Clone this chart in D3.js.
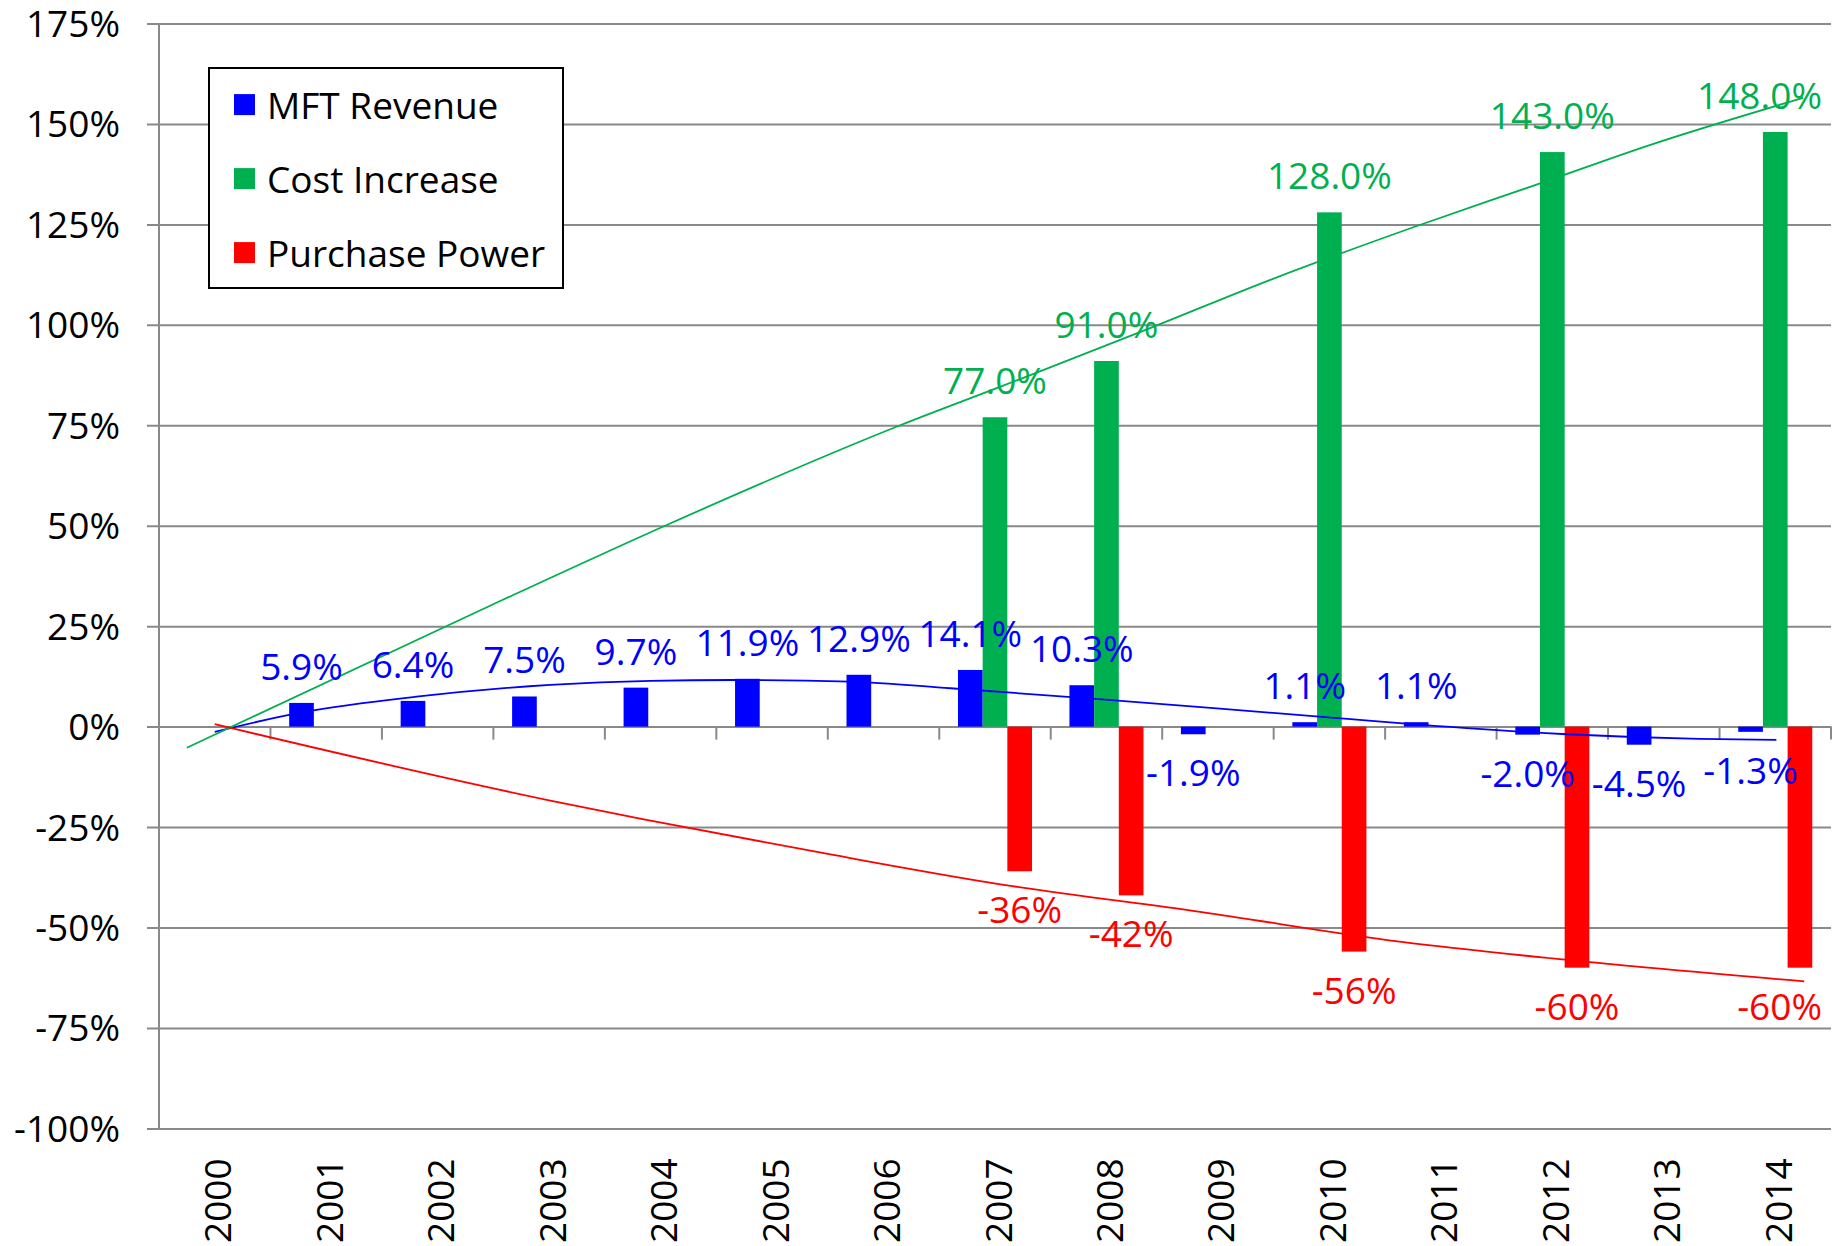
<!DOCTYPE html>
<html>
<head>
<meta charset="utf-8">
<script src="https://cdn.jsdelivr.net/npm/d3@7"></script>
<style>
  html, body { margin: 0; padding: 0; background: #fff; }
  svg { display: block; }
  text { font-family: "Open Sans", "Noto Sans", sans-serif; }
</style>
</head>
<body>
<svg id="chart" width="1843" height="1246"></svg>
<script>
// ---------------- data ----------------
const years = ["2000","2001","2002","2003","2004","2005","2006","2007","2008","2009","2010","2011","2012","2013","2014"];
const mftRevenue    = [null, 5.9, 6.4, 7.5, 9.7, 11.9, 12.9, 14.1, 10.3, -1.9, 1.1, 1.1, -2.0, -4.5, -1.3];
const costIncrease  = [null, null, null, null, null, null, null, 77.0, 91.0, null, 128.0, null, 143.0, null, 148.0];
const purchasePower = [null, null, null, null, null, null, null, -36, -42, null, -56, null, -60, null, -60];
const yTicks = [-100, -75, -50, -25, 0, 25, 50, 75, 100, 125, 150, 175];
const seriesNames = ["MFT Revenue", "Cost Increase", "Purchase Power"];
// trendlines: [year position, value %]
const mftTrend   = [[2000,-1.3],[2000.79,3.6],[2001.81,7.45],[2003.01,10.4],[2003.91,11.4],[2004.65,11.6],[2005.7,11.2],[2006.6,9.55],[2007.9,6.9],[2008.99,4.55],[2010.19,1.85],[2010.63,0.85],[2012.13,-1.9],[2013.32,-3.05],[2014.01,-3.3]];
const costTrend  = [[1999.75,-5.25],[2002.58,31.5],[2004.04,50],[2006.15,75],[2007.05,84.6],[2008.42,99.5],[2009.47,111.2],[2010.81,124.85],[2011.89,135.2],[2012.88,144.8],[2014.25,156.5]];
const powerTrend = [[2000,0.6],[2003.01,-18.4],[2003.85,-23.1],[2005.5,-31.7],[2007.05,-39.25],[2008.84,-46.1],[2010.63,-53.5],[2012,-57.7],[2014.26,-63.4]];

// ---------------- layout / style ----------------
const colors = ["#0000FF", "#00B050", "#FF0000"];
const labelFmt = [v => v.toFixed(1) + "%", v => v.toFixed(1) + "%", v => v.toFixed(0) + "%"];
const plotLeft = 159, plotRight = 1831, plotTop = 23.5, plotBottom = 1128.4;
const fontSize = 37;
const gridColor = "#898989";

const svg = d3.select("#chart");

const x = d3.scaleBand().domain(years).range([plotLeft, plotRight]).padding(0);
const y = d3.scaleLinear().domain([-100, 175]).range([plotBottom, plotTop]);
const bw = x.bandwidth();
const barW = bw * 0.2214;
const xc = yr => x(years[0]) + bw / 2 + (yr - +years[0]) * bw;

// gridlines + y ticks
const yAxis = d3.axisLeft(y).tickValues(yTicks).tickSize(plotRight - plotLeft + 12).tickFormat(d => d + "%").tickPadding(26);
const gy = svg.append("g").attr("transform", `translate(${plotRight},0)`).call(yAxis);
gy.select(".domain").remove();
gy.selectAll(".tick line").attr("stroke", gridColor).attr("stroke-width", 2);
gy.selectAll(".tick text").attr("font-size", fontSize).attr("fill", "#000").attr("dy", "0.35em")
  .attr("x", -(plotRight - 120));

// y axis line
svg.append("line").attr("x1", plotLeft).attr("x2", plotLeft).attr("y1", plotTop).attr("y2", plotBottom)
  .attr("stroke", gridColor).attr("stroke-width", 2);

// category ticks on the zero line
const boundaries = d3.range(1, years.length + 1).map(i => plotLeft + i * bw);
svg.append("g").selectAll("line").data(boundaries).join("line")
  .attr("x1", d => d).attr("x2", d => d).attr("y1", y(0)).attr("y2", y(0) + 13)
  .attr("stroke", gridColor).attr("stroke-width", 2);

// x labels at bottom, rotated
svg.append("g").selectAll("text").data(years).join("text")
  .attr("transform", d => `translate(${x(d) + bw / 2 + 2},${plotBottom + 30}) rotate(-90)`)
  .attr("text-anchor", "end").attr("dominant-baseline", "central")
  .attr("font-size", fontSize).attr("fill", "#000").text(d => d);

// bars
const allSeries = [mftRevenue, costIncrease, purchasePower];
allSeries.forEach((vals, si) => {
  const data = vals.map((v, i) => ({ yr: years[i], v })).filter(d => d.v !== null);
  svg.append("g").selectAll("rect").data(data).join("rect")
    .attr("x", d => x(d.yr) + bw / 2 + (si - 1) * barW - barW / 2)
    .attr("width", barW)
    .attr("y", d => y(Math.max(0, d.v)))
    .attr("height", d => Math.abs(y(d.v) - y(0)))
    .attr("fill", colors[si]);
});

// trendlines
const lineGen = d3.line().x(d => xc(d[0])).y(d => y(d[1])).curve(d3.curveMonotoneX);
[mftTrend, costTrend, powerTrend].forEach((t, si) => {
  svg.append("path").datum(t).attr("d", lineGen).attr("fill", "none")
    .attr("stroke", colors[si]).attr("stroke-width", 1.8);
});

// data labels
allSeries.forEach((vals, si) => {
  const data = vals.map((v, i) => ({ yr: years[i], v })).filter(d => d.v !== null);
  const g = svg.append("g");
  g.selectAll("text").data(data).join("text")
    .attr("x", d => x(d.yr) + bw / 2 + (si - 1) * barW)
    .attr("y", d => d.v >= 0 ? y(d.v) - 37.5 : y(d.v) + 37.5)
    .attr("text-anchor", "middle").attr("dominant-baseline", "central")
    .attr("font-size", fontSize).attr("fill", colors[si])
    .text(d => labelFmt[si](d.v))
    .each(function () {
      const bb = this.getBBox();
      const maxRight = 1822;
      if (bb.x + bb.width > maxRight) {
        d3.select(this).attr("x", +d3.select(this).attr("x") - (bb.x + bb.width - maxRight));
      }
    });
});

// legend
const lg = svg.append("g");
lg.append("rect").attr("x", 209).attr("y", 68).attr("width", 354).attr("height", 220)
  .attr("fill", "#fff").attr("stroke", "#000").attr("stroke-width", 2);
seriesNames.forEach((name, i) => {
  const cy = 104.6 + i * 74;
  lg.append("rect").attr("x", 234).attr("y", cy - 10.5).attr("width", 21).attr("height", 21).attr("fill", colors[i]);
  lg.append("text").attr("x", 267).attr("y", cy).attr("dominant-baseline", "central")
    .attr("font-size", fontSize).attr("fill", "#000").text(name);
});
</script>
</body>
</html>
